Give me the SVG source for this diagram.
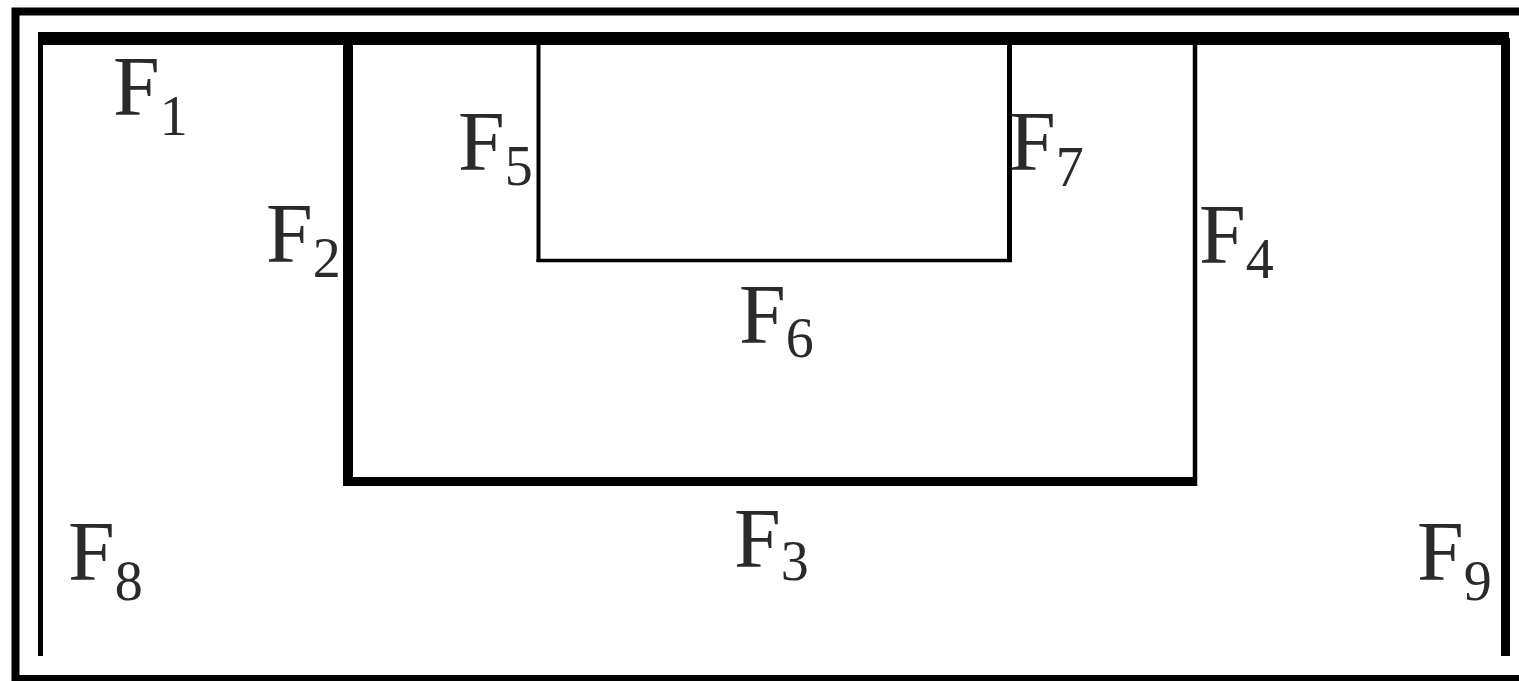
<svg xmlns="http://www.w3.org/2000/svg" width="1519" height="681" viewBox="0 0 1519 681">
<style>
.ln{stroke:#000;fill:none;stroke-linecap:butt}
.t{font-family:"Liberation Serif","Times New Roman",serif;font-size:84px;fill:#2a2a2a}
.s{font-size:56px}
</style>
<rect width="1519" height="681" fill="#fff"/>
<g id="connectors">
<rect class="ln" x="15.5" y="11.5" width="1512" height="667.5" stroke-width="8"/>
<line class="ln" x1="38" y1="38.5" x2="1509" y2="38.5" stroke-width="13"/>
<line class="ln" x1="40.5" y1="38" x2="40.5" y2="656" stroke-width="5"/>
<line class="ln" x1="1505.5" y1="38" x2="1505.5" y2="656" stroke-width="9"/>
<line class="ln" x1="348" y1="38" x2="348" y2="486" stroke-width="10"/>
<line class="ln" x1="343" y1="481.5" x2="1197" y2="481.5" stroke-width="9"/>
<line class="ln" x1="1195" y1="38" x2="1195" y2="486" stroke-width="4.5"/>
<line class="ln" x1="538.5" y1="38" x2="538.5" y2="262" stroke-width="4"/>
<line class="ln" x1="536.5" y1="260.5" x2="1012" y2="260.5" stroke-width="3.5"/>
<line class="ln" x1="1009.5" y1="38" x2="1009.5" y2="262" stroke-width="5"/>
</g>
<g id="F1"><text class="t" x="113" y="115">F<tspan class="s" dy="20">1</tspan></text></g>
<g id="F2"><text class="t" x="266" y="262">F<tspan class="s" dy="15">2</tspan></text></g>
<g id="F3"><text class="t" x="734" y="567">F<tspan class="s" dy="13">3</tspan></text></g>
<g id="F4"><text class="t" x="1199" y="263">F<tspan class="s" dy="15">4</tspan></text></g>
<g id="F5"><text class="t" x="458" y="170">F<tspan class="s" dy="15">5</tspan></text></g>
<g id="F6"><text class="t" x="739" y="343">F<tspan class="s" dy="14">6</tspan></text></g>
<g id="F7"><text class="t" x="1009" y="170">F<tspan class="s" dy="16">7</tspan></text></g>
<g id="F8"><text class="t" x="68" y="580">F<tspan class="s" dy="20">8</tspan></text></g>
<g id="F9"><text class="t" x="1417" y="580">F<tspan class="s" dy="20">9</tspan></text></g>
</svg>
